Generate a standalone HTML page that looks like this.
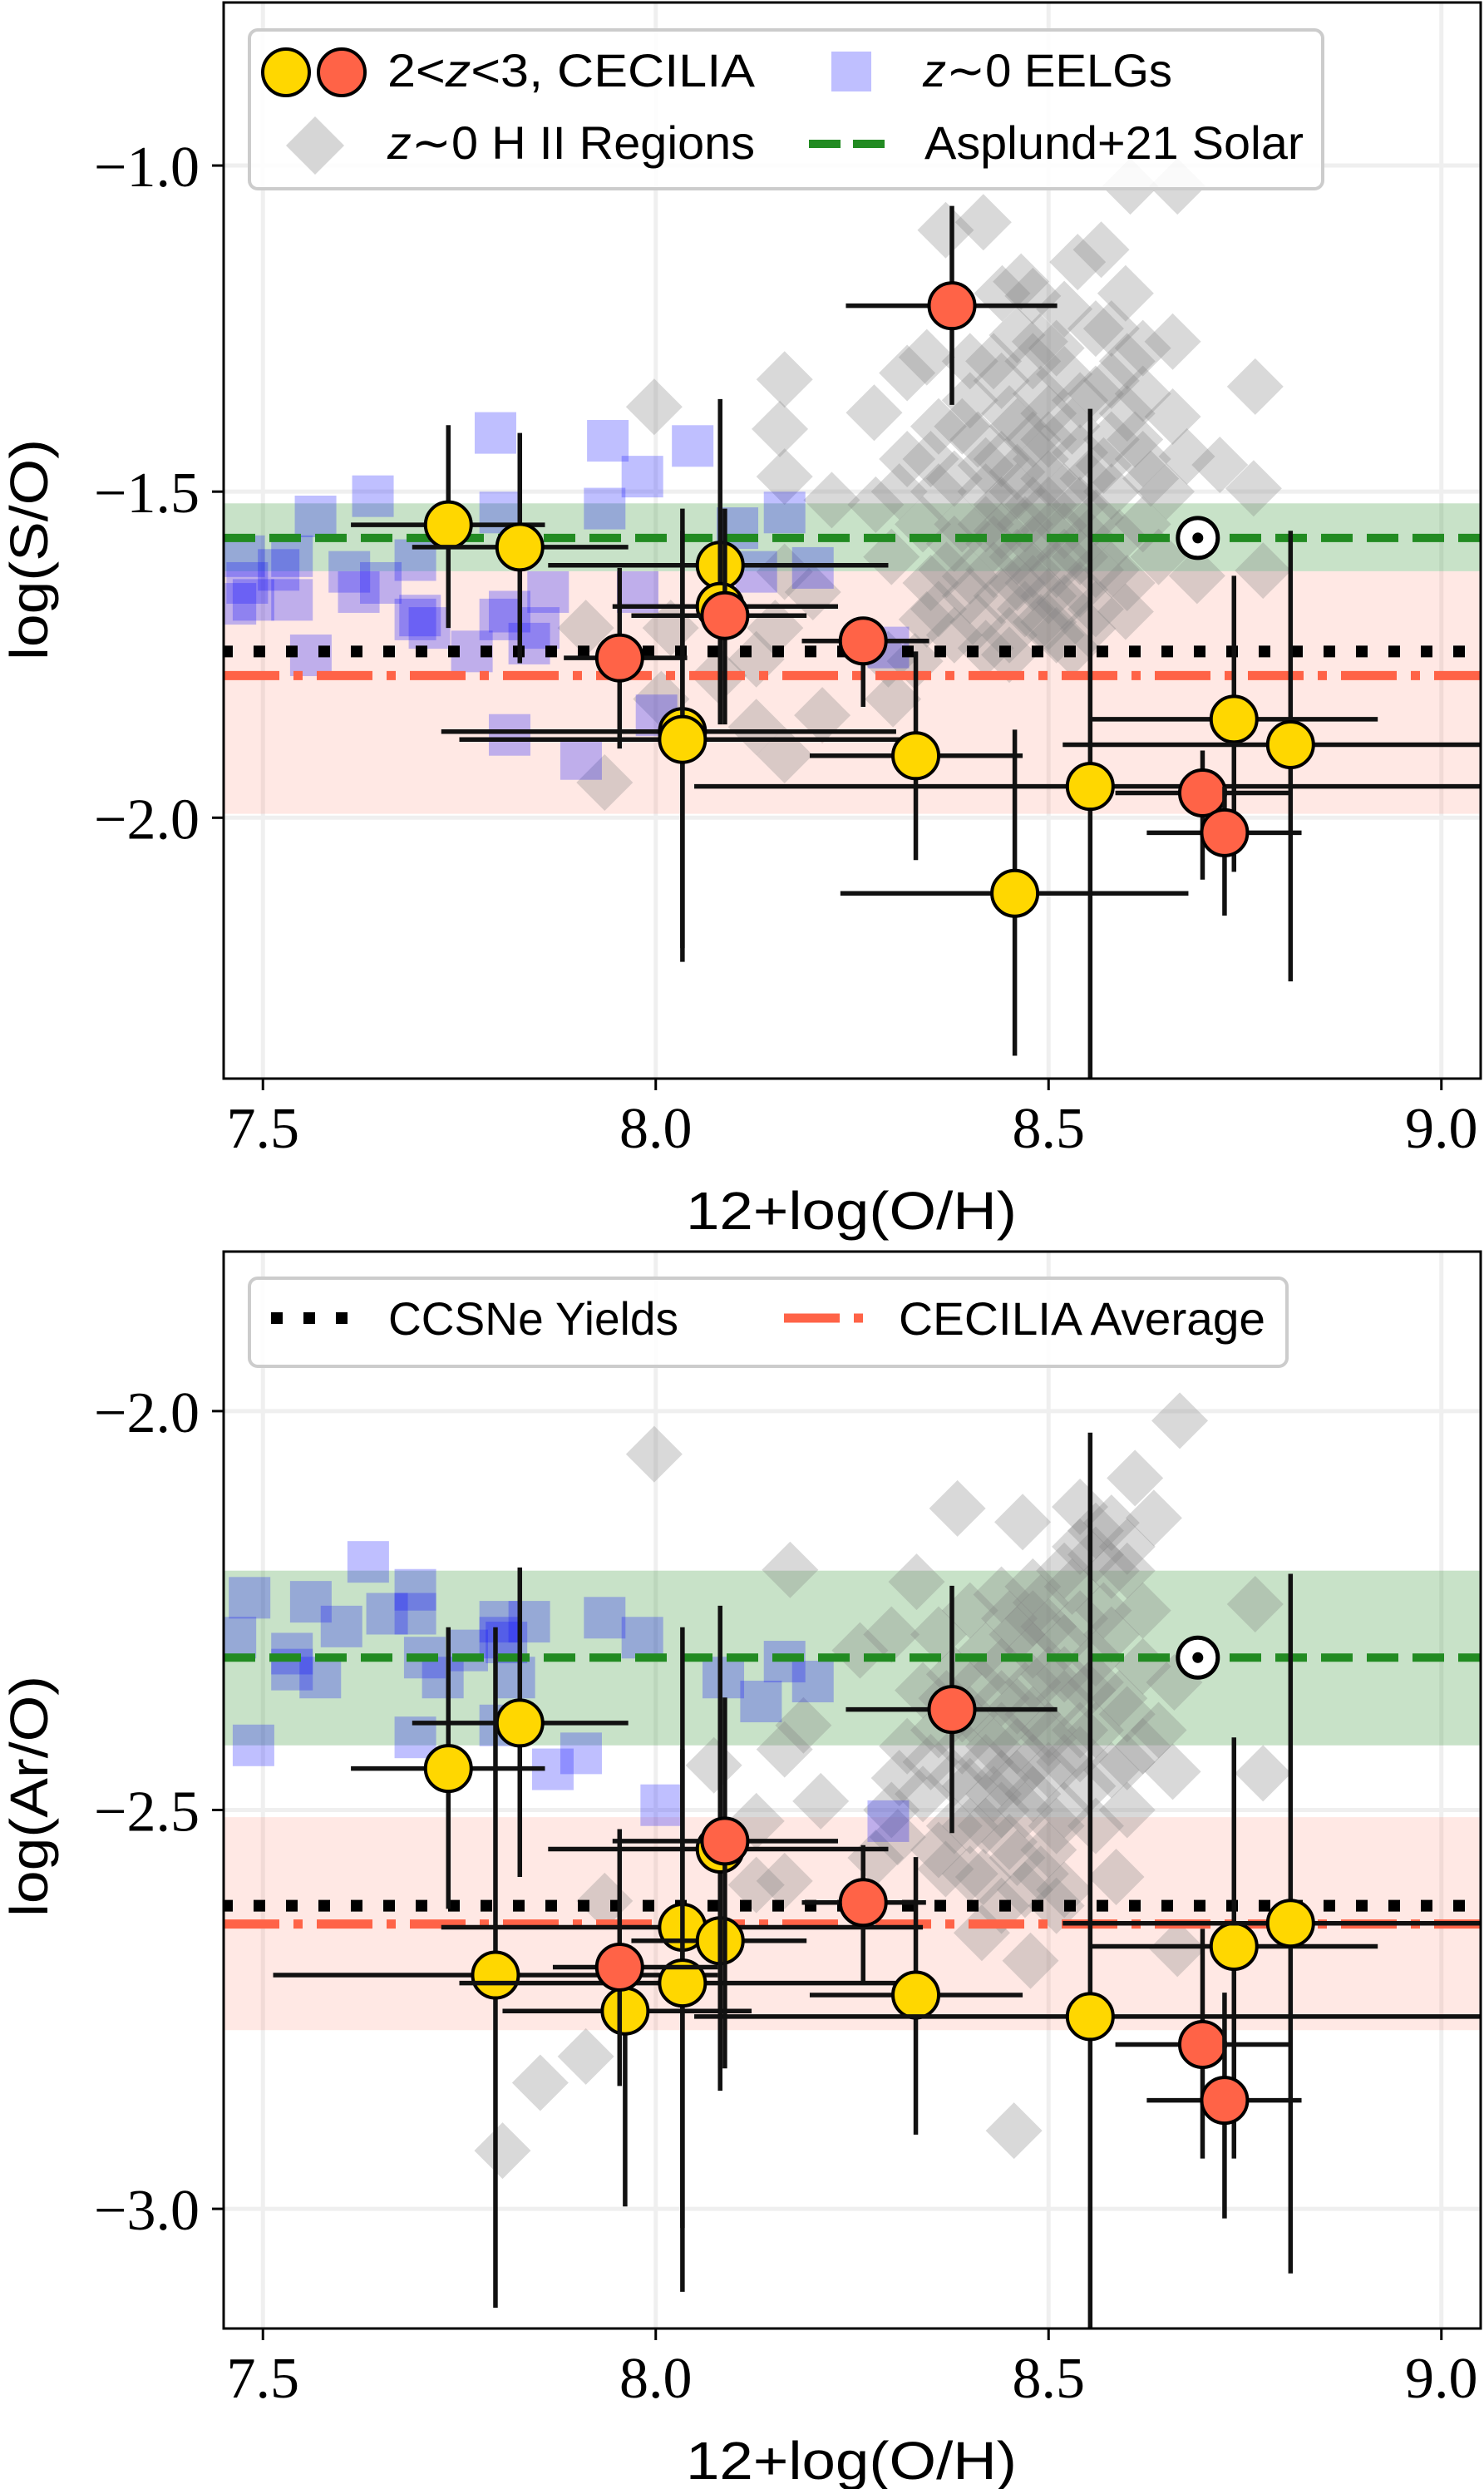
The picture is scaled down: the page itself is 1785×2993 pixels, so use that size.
<!DOCTYPE html>
<html><head><meta charset="utf-8">
<style>
html,body{margin:0;padding:0;background:#fff;}
svg{display:block;}
</style></head>
<body>
<svg id="fig" xmlns="http://www.w3.org/2000/svg" width="1785" height="2993" viewBox="0 0 1785 2993"></svg>
<script>
// ---------- DATA ----------
const xTicks = [7.5, 8.0, 8.5, 9.0];
const xTickLabels = ["7.5", "8.0", "8.5", "9.0"];
const topYTicks = [-1.0, -1.5, -2.0];
const topYTickLabels = ["\u22121.0", "\u22121.5", "\u22122.0"];
const botYTicks = [-2.0, -2.5, -3.0];
const botYTickLabels = ["\u22122.0", "\u22122.5", "\u22123.0"];

// top panel: S/O   [x, y, xlo, xhi, ylo, yhi]
const soYellow = [
 [7.736,-1.551,7.612,7.859,-1.398,-1.709],
 [7.827,-1.585,7.690,7.965,-1.410,-1.763],
 [8.082,-1.613,7.863,8.296,-1.358,-1.857],
 [8.082,-1.676,7.945,8.232,-1.540,-1.850],
 [8.034,-1.868,7.727,8.306,-1.526,-2.221],
 [8.034,-1.880,7.750,8.320,-1.560,-2.200],
 [8.331,-1.905,8.196,8.467,-1.745,-2.065],
 [8.457,-2.116,8.235,8.678,-1.865,-2.365],
 [8.553,-1.952,8.049,9.100,-1.373,-2.450],
 [8.736,-1.849,8.553,8.919,-1.629,-2.083],
 [8.808,-1.888,8.518,9.100,-1.560,-2.251]
];
const soRed = [
 [8.377,-1.215,8.242,8.511,-1.062,-1.367],
 [7.954,-1.755,7.883,8.040,-1.617,-1.894],
 [8.088,-1.690,7.969,8.192,-1.526,-1.857],
 [8.264,-1.729,8.186,8.348,-1.700,-1.830],
 [8.696,-1.962,8.585,8.808,-1.897,-2.095],
 [8.724,-2.023,8.625,8.822,-1.952,-2.150]
];
const soEelgX = [7.796,7.939,8.047,7.983,7.640,7.567,7.935,7.802,8.164,8.104,7.476,7.537,7.610,7.694,7.488,7.537,7.465,7.694,7.712,7.814,7.863,7.851,7.802,7.977,8.128,8.200,7.561,7.839,8.296,7.814,7.905,8.001,7.622,7.766,7.700,7.650,7.520,7.480];
const soEelgY = [-1.410,-1.422,-1.430,-1.477,-1.507,-1.538,-1.526,-1.532,-1.532,-1.556,-1.599,-1.599,-1.623,-1.605,-1.666,-1.666,-1.672,-1.696,-1.709,-1.684,-1.654,-1.709,-1.696,-1.654,-1.623,-1.617,-1.751,-1.733,-1.739,-1.873,-1.910,-1.843,-1.654,-1.745,-1.690,-1.640,-1.620,-1.640];
const soHiiX = [8.417,8.369,8.604,8.664,8.567,8.537,8.598,8.465,8.441,8.658,8.489,8.345,8.320,8.164,7.998,8.763,8.658,8.676,8.761,8.718,8.158,8.278,8.164,8.224,8.773,8.689,8.598,7.911,8.019,8.164,8.200,8.152,8.128,8.080,8.212,8.128,8.164,7.935,8.007,8.302,8.296,8.345,
 8.36,8.40,8.44,8.48,8.52,8.56,8.60,8.46,8.50,8.54,8.58,8.62,8.38,8.42,8.46,8.50,8.54,8.58,8.62,8.34,8.38,8.42,8.46,8.50,8.54,8.58,8.40,8.44,8.48,8.52,8.56,8.45,8.49,8.42,8.53,8.30,8.28,8.32,8.36,8.60,8.56,8.52,8.48,8.50,8.47,8.51,8.43,8.55,8.41,8.38,8.33,8.36,8.65,8.64,8.62,
 8.44,8.48,8.52,8.46,8.50,8.54,8.48,8.52,8.44,8.56,8.49,8.53,8.45,8.41,8.57,8.59,8.47,8.51,8.43,8.39,8.37,8.55,8.49,8.51,8.58,8.46,8.54,8.61,8.63,8.35,8.39,8.31,8.42,8.50,8.46,8.52,8.48,8.44,8.56,8.50,8.40,8.35,8.60,8.58,8.62,8.45,8.48,8.55,8.43,8.40];
const soHiiY = [-1.087,-1.099,-1.032,-1.032,-1.129,-1.148,-1.196,-1.178,-1.196,-1.270,-1.270,-1.294,-1.318,-1.328,-1.370,-1.339,-1.385,-1.446,-1.495,-1.459,-1.404,-1.379,-1.477,-1.513,-1.621,-1.629,-1.684,-1.709,-1.709,-1.623,-1.654,-1.709,-1.757,-1.782,-1.843,-1.861,-1.904,-1.946,-1.818,-1.818,-1.757,-1.696,
 -1.40,-1.36,-1.33,-1.30,-1.32,-1.35,-1.38,-1.40,-1.42,-1.44,-1.42,-1.45,-1.48,-1.46,-1.50,-1.48,-1.52,-1.50,-1.55,-1.55,-1.58,-1.55,-1.60,-1.56,-1.60,-1.62,-1.63,-1.66,-1.64,-1.67,-1.68,-1.72,-1.70,-1.74,-1.74,-1.60,-1.52,-1.45,-1.68,-1.30,-1.25,-1.22,-1.20,-1.38,-1.55,-1.62,-1.58,-1.57,-1.70,-1.72,-1.76,-1.50,-1.50,-1.60,-1.35,
 -1.45,-1.52,-1.50,-1.64,-1.66,-1.65,-1.58,-1.56,-1.52,-1.54,-1.45,-1.40,-1.38,-1.42,-1.46,-1.57,-1.68,-1.72,-1.62,-1.55,-1.62,-1.71,-1.35,-1.28,-1.33,-1.26,-1.36,-1.42,-1.48,-1.45,-1.40,-1.50,-1.50,-1.52,-1.47,-1.60,-1.62,-1.56,-1.62,-1.70,-1.66,-1.64,-1.64,-1.25,-1.28,-1.75,-1.42,-1.48,-1.30,-1.30];
const soSolar = -1.571, soSolarBand = [-1.518,-1.622];
const soCcsne = -1.745;
const soAvg = -1.782, soAvgBand = [-1.622,-1.994];
const solarOH = 8.69;

// bottom panel: Ar/O
const aroYellow = [
 [7.736,-2.448,7.612,7.859,-2.271,-2.624],
 [7.827,-2.391,7.690,7.965,-2.196,-2.584],
 [7.796,-2.707,7.513,8.079,-2.271,-3.124],
 [7.961,-2.752,7.805,8.122,-2.704,-2.997],
 [8.034,-2.647,7.727,8.340,-2.271,-3.104],
 [8.034,-2.717,7.750,8.320,-2.424,-3.024],
 [8.082,-2.664,7.969,8.192,-2.244,-2.852],
 [8.082,-2.549,7.863,8.296,-2.374,-2.824],
 [8.331,-2.732,8.196,8.467,-2.559,-2.907],
 [8.553,-2.759,8.049,9.100,-2.027,-3.200],
 [8.736,-2.671,8.553,8.919,-2.409,-2.937],
 [8.808,-2.642,8.518,9.100,-2.204,-3.081]
];
const aroRed = [
 [8.377,-2.374,8.242,8.511,-2.219,-2.529],
 [7.954,-2.697,7.869,8.079,-2.524,-2.846],
 [8.088,-2.539,7.945,8.232,-2.359,-2.824],
 [8.264,-2.616,8.186,8.344,-2.544,-2.719],
 [8.696,-2.794,8.585,8.808,-2.649,-2.937],
 [8.724,-2.864,8.625,8.822,-2.729,-3.012]
];
const aroEelgX = [7.634,7.694,7.483,7.561,7.658,7.694,7.802,7.839,7.935,7.983,7.465,7.537,7.706,7.802,7.820,7.573,7.537,8.086,8.200,8.164,8.134,7.729,7.488,7.694,7.905,7.869,8.007,8.296,7.802,7.810,7.600,7.760];
const aroEelgY = [-2.189,-2.224,-2.234,-2.239,-2.254,-2.254,-2.264,-2.264,-2.259,-2.284,-2.284,-2.304,-2.309,-2.284,-2.334,-2.334,-2.324,-2.334,-2.339,-2.314,-2.364,-2.334,-2.419,-2.409,-2.429,-2.449,-2.494,-2.514,-2.394,-2.290,-2.270,-2.300];
const aroHiiX = [8.667,7.998,8.384,8.467,8.610,8.634,8.171,8.763,8.773,8.658,8.074,8.164,8.188,8.210,8.128,8.164,8.128,7.935,7.911,7.853,7.805,8.456,8.415,8.477,8.664,8.417,8.369,8.586,8.308,8.332,
 8.36,8.40,8.44,8.48,8.52,8.56,8.58,8.54,8.60,8.62,8.34,8.38,8.42,8.46,8.50,8.54,8.58,8.62,8.32,8.36,8.40,8.44,8.48,8.52,8.56,8.60,8.64,8.34,8.38,8.42,8.46,8.50,8.54,8.58,8.40,8.44,8.48,8.52,8.56,8.46,8.50,8.30,8.28,8.44,8.52,8.60,8.66,8.26,8.30,
 8.44,8.48,8.52,8.46,8.50,8.54,8.48,8.52,8.44,8.56,8.49,8.53,8.45,8.41,8.57,8.59,8.47,8.51,8.43,8.39,8.37,8.55,8.49,8.51,8.58,8.56,8.54,8.60,8.62,8.35,8.39,8.31,8.42,8.50,8.46,8.52,8.48,8.44,8.56,8.50,8.40,8.36,8.60,8.47,8.40,8.45,8.48,8.55,8.43,8.38];
const aroHiiY = [-2.012,-2.054,-2.122,-2.139,-2.084,-2.134,-2.199,-2.242,-2.454,-2.452,-2.444,-2.424,-2.394,-2.489,-2.514,-2.589,-2.594,-2.614,-2.809,-2.842,-2.927,-2.902,-2.654,-2.689,-2.674,-2.584,-2.574,-2.584,-2.534,-2.214,
 -2.28,-2.25,-2.23,-2.22,-2.20,-2.18,-2.14,-2.17,-2.20,-2.25,-2.35,-2.33,-2.30,-2.28,-2.27,-2.26,-2.28,-2.32,-2.42,-2.40,-2.38,-2.36,-2.34,-2.33,-2.34,-2.38,-2.40,-2.48,-2.46,-2.44,-2.42,-2.41,-2.43,-2.45,-2.52,-2.50,-2.48,-2.50,-2.52,-2.56,-2.55,-2.50,-2.56,-2.62,-2.60,-2.50,-2.34,-2.30,-2.28,
 -2.32,-2.38,-2.36,-2.46,-2.45,-2.40,-2.30,-2.29,-2.40,-2.31,-2.24,-2.22,-2.26,-2.34,-2.25,-2.36,-2.50,-2.52,-2.48,-2.42,-2.36,-2.47,-2.58,-2.62,-2.20,-2.15,-2.12,-2.17,-2.42,-2.44,-2.38,-2.46,-2.52,-2.40,-2.37,-2.44,-2.44,-2.46,-2.40,-2.33,-2.58,-2.55,-2.44,-2.60,-2.47,-2.54,-2.26,-2.35,-2.42,-2.52];
const aroSolar = -2.309, aroSolarBand = [-2.20,-2.419];
const aroCcsne = -2.620;
const aroAvg = -2.643, aroAvgBand = [-2.509,-2.776];

// ---------- DRAWING ----------
const NS = "http://www.w3.org/2000/svg";
const svg = document.getElementById('fig');
function mk(tag, attrs, parent){
  const e = document.createElementNS(NS, tag);
  for (const k in attrs) e.setAttribute(k, attrs[k]);
  (parent||svg).appendChild(e);
  return e;
}
const X0=269, X1=1781, XMIN=7.45, XMAX=9.05;
function xs(v){ return X0 + (v-XMIN)/(XMAX-XMIN)*(X1-X0); }

function panel(opt){
  const {top,bottom,ymin,ymax,id} = opt;
  const ys = v => top + (ymax-v)/(ymax-ymin)*(bottom-top);
  const g = mk('g', {});
  
  
  const cp = mk('clipPath', {id:id+'-clip'}, g);
  mk('rect',{x:X0,y:top,width:X1-X0,height:bottom-top},cp);
  const pg = mk('g', {'clip-path':'url(#'+id+'-clip)'}, g);
  xTicks.forEach(t=>{ const l=mk('line',{x1:xs(t),x2:xs(t),y1:top,y2:bottom,stroke:'#efefef','stroke-width':5},pg);
      });
  opt.yTicks.forEach(t=>{ const l=mk('line',{x1:X0,x2:X1,y1:ys(t),y2:ys(t),stroke:'#efefef','stroke-width':5},pg);
      });
  let b=mk('rect',{x:X0,width:X1-X0,y:ys(opt.solarBand[0]),height:ys(opt.solarBand[1])-ys(opt.solarBand[0]),fill:'#228B22','fill-opacity':0.25},pg);
   
  b=mk('rect',{x:X0,width:X1-X0,y:ys(opt.avgBand[0]),height:ys(opt.avgBand[1])-ys(opt.avgBand[0]),fill:'#FF6347','fill-opacity':0.15},pg);
   
  opt.hiiX.forEach((xv,i)=>{ const cx=xs(xv), cy=ys(opt.hiiY[i]), r=34;
    const d=mk('polygon',{points:`${cx},${cy-r} ${cx+r},${cy} ${cx},${cy+r} ${cx-r},${cy}`,fill:'#808080','fill-opacity':0.3},pg);
      });
  opt.eelgX.forEach((xv,i)=>{ const cx=xs(xv), cy=ys(opt.eelgY[i]);
    const s=mk('rect',{x:cx-25,y:cy-25,width:50,height:50,fill:'#0000ff','fill-opacity':0.25},pg);
      });
  let l=mk('line',{x1:X0,x2:X1,y1:ys(opt.solar),y2:ys(opt.solar),stroke:'#228B22','stroke-width':10,'stroke-dasharray':'38 17'},pg);
   
  l=mk('line',{x1:X0-3,x2:X1,y1:ys(opt.ccsne),y2:ys(opt.ccsne),stroke:'#000','stroke-width':14,'stroke-dasharray':'14 25'},pg);
   
  l=mk('line',{x1:X0,x2:X1,y1:ys(opt.avg),y2:ys(opt.avg),stroke:'#FF6347','stroke-width':11,'stroke-dasharray':'67 17 11 17'},pg);
   
  const sx=xs(solarOH), sy=ys(opt.solar);
  let c=mk('circle',{cx:sx,cy:sy,r:24,fill:'#fff',stroke:'#000','stroke-width':5},pg);
   
  mk('circle',{cx:sx,cy:sy,r:6.5,fill:'#000'},pg);
  function pts(arr,color,name){
    arr.forEach(p=>{
      const gg=mk('g',{},pg);
       
      mk('line',{x1:xs(p[2]),x2:xs(p[3]),y1:ys(p[1]),y2:ys(p[1]),stroke:'#111','stroke-width':5.5},gg);
      mk('line',{x1:xs(p[0]),x2:xs(p[0]),y1:ys(p[4]),y2:ys(p[5]),stroke:'#111','stroke-width':5.5},gg);
      mk('circle',{cx:xs(p[0]),cy:ys(p[1]),r:27.5,fill:color,stroke:'#000','stroke-width':4},gg);
    });
  }
  pts(opt.yellow,'#FFD700','cecilia-yellow-point');
  pts(opt.red,'#FF6347','cecilia-red-point');
  const f=mk('rect',{x:X0,y:top,width:X1-X0,height:bottom-top,fill:'none',stroke:'#000','stroke-width':3},g);
   
  xTicks.forEach((t,i)=>{
    mk('line',{x1:xs(t),x2:xs(t),y1:bottom,y2:bottom+14,stroke:'#000','stroke-width':3},g);
    const tx=mk('text',{x:xs(t),y:bottom+83,'text-anchor':'middle','font-family':'"Liberation Serif",serif','font-size':70},g);
    tx.textContent=xTickLabels[i];
     
  });
  opt.yTicks.forEach((t,i)=>{
    mk('line',{x1:X0-14,x2:X0,y1:ys(t),y2:ys(t),stroke:'#000','stroke-width':3},g);
    const tx=mk('text',{x:240,y:ys(t)+25,'text-anchor':'end','font-family':'"Liberation Serif",serif','font-size':70},g);
    tx.textContent=opt.yTickLabels[i];
     
  });
  let t=mk('text',{x:1024,y:bottom+181,'text-anchor':'middle','font-family':'"Liberation Sans",sans-serif','font-size':64,textLength:398,lengthAdjust:'spacingAndGlyphs'},g);
  t.textContent='12+log(O/H)';
   
  t=mk('text',{x:0,y:0,'text-anchor':'middle','font-family':'"Liberation Sans",sans-serif','font-size':64,transform:`translate(57,${opt.ylabY}) rotate(-90)`,textLength:opt.ylabLen,lengthAdjust:'spacingAndGlyphs'},g);
  t.textContent=opt.ylab;
   
}

panel({id:'s-o',top:3,bottom:1297,ymin:-2.4,ymax:-0.75,yTicks:topYTicks,yTickLabels:topYTickLabels,
  yellow:soYellow,red:soRed,eelgX:soEelgX,eelgY:soEelgY,hiiX:soHiiX,hiiY:soHiiY,
  solar:soSolar,solarBand:soSolarBand,ccsne:soCcsne,avg:soAvg,avgBand:soAvgBand,ylab:'log(S/O)',ylabY:661,ylabLen:266});
panel({id:'ar-o',top:1505,bottom:2800,ymin:-3.15,ymax:-1.8,yTicks:botYTicks,yTickLabels:botYTickLabels,
  yellow:aroYellow,red:aroRed,eelgX:aroEelgX,eelgY:aroEelgY,hiiX:aroHiiX,hiiY:aroHiiY,
  solar:aroSolar,solarBand:aroSolarBand,ccsne:aroCcsne,avg:aroAvg,avgBand:aroAvgBand,ylab:'log(Ar/O)',ylabY:2160,ylabLen:290});

// ---------- LEGENDS ----------
function ltext(x,y,parts,len,name){
  const t=mk('text',{x:x,y:y,'font-family':'"Liberation Sans","DejaVu Sans",sans-serif','font-size':56,textLength:len,lengthAdjust:'spacingAndGlyphs'});
  parts.forEach(p=>{ const s=mk('tspan',p[1]?{'font-style':'italic'}:{},t); s.textContent=p[0]; });
   
  return t;
}
let lg=mk('rect',{x:300,y:36,width:1291,height:191,rx:10,fill:'#fff','fill-opacity':0.85,stroke:'#cccccc','stroke-width':4});
 
mk('circle',{cx:344,cy:87,r:28,fill:'#FFD700',stroke:'#000','stroke-width':4});
mk('circle',{cx:411,cy:87,r:28,fill:'#FF6347',stroke:'#000','stroke-width':4});
ltext(466,104,[['2<'],['z',1],['<3, CECILIA']],442,'legend-cecilia');
mk('rect',{x:1000,y:62,width:48,height:48,fill:'#0000ff','fill-opacity':0.25});
ltext(1110,104,[['z',1],['\u223C0 EELGs']],300,'legend-eelgs');
mk('polygon',{points:'379,140 414,175 379,210 344,175',fill:'#d6d6d6'});
ltext(466,191,[['z',1],['\u223C0 H II Regions']],442,'legend-hii-regions');
mk('line',{x1:973,x2:1064,y1:173,y2:173,stroke:'#228B22','stroke-width':10,'stroke-dasharray':'38 15'});
ltext(1112,191,[['Asplund+21 Solar']],456,'legend-asplund-solar');

lg=mk('rect',{x:300,y:1537,width:1248,height:106,rx:10,fill:'#fff','fill-opacity':0.85,stroke:'#cccccc','stroke-width':4});
 
mk('line',{x1:326,x2:418,y1:1585,y2:1585,stroke:'#000','stroke-width':14,'stroke-dasharray':'14 25'});
ltext(467,1605,[['CCSNe Yields']],349,'legend-ccsne-yields');
mk('line',{x1:943,x2:1040,y1:1585,y2:1585,stroke:'#FF6347','stroke-width':11,'stroke-dasharray':'67 17 11 17'});
ltext(1081,1605,[['CECILIA Average']],441,'legend-cecilia-average');
</script>
</body></html>
